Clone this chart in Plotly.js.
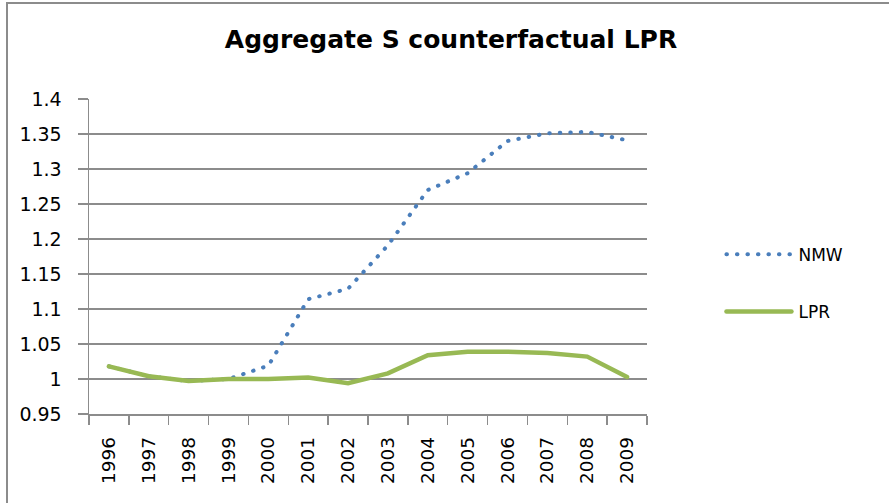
<!DOCTYPE html>
<html>
<head>
<meta charset="utf-8">
<script src="https://cdn.plot.ly/plotly-3.0.1.min.js"></script>
<style>
  html, body { margin: 0; padding: 0; background: #fff; overflow: hidden; }
  #chart { position: absolute; left: 0; top: 0; width: 889px; height: 503px; }
  #frame { position: absolute; left: 6px; top: 2px; width: 900px; height: 520px;
           border-left: 2px solid #8c8c8c; border-top: 2px solid #8c8c8c; pointer-events: none; }
  .js-line { stroke-linecap: round; }
  .legend .legendlines path { d: path("M3,0 h65") !important; }
</style>
</head>
<body>
<div id="chart"></div>
<div id="frame"></div>
<script>
const years = ["1996","1997","1998","1999","2000","2001","2002","2003","2004","2005","2006","2007","2008","2009"];
const nmwValues = [1.018, 1.004, 0.997, 1.000, 1.019, 1.114, 1.129, 1.191, 1.270, 1.294, 1.340, 1.351, 1.353, 1.341];
const lprValues = [1.018, 1.004, 0.997, 1.000, 1.000, 1.002, 0.994, 1.008, 1.034, 1.039, 1.039, 1.037, 1.032, 1.003];
const yTicks = [0.95, 1, 1.05, 1.1, 1.15, 1.2, 1.25, 1.3, 1.35, 1.4];

const traces = [
  {
    x: years, y: nmwValues, name: "NMW", type: "scatter", mode: "lines",
    legendgroup: "a",
    line: { color: "#4a7ebb", width: 4, dash: "0.5px,10px" }
  },
  {
    x: years, y: lprValues, name: "LPR", type: "scatter", mode: "lines",
    legendgroup: "b",
    line: { color: "#98b954", width: 4.5 }
  }
];

const layout = {
  width: 889, height: 503,
  margin: { l: 89, r: 242, t: 99, b: 89 },
  paper_bgcolor: "#fff", plot_bgcolor: "#fff",
  font: { family: "DejaVu Sans", color: "#000" },
  title: {
    text: "<b>Aggregate S counterfactual LPR</b>",
    font: { family: "DejaVu Sans", size: 25, color: "#000" },
    x: 451 / 889, xref: "container", xanchor: "center",
    y: 1 - 39 / 503, yref: "container", yanchor: "middle"
  },
  showlegend: true,
  legend: {
    x: 1.137, xanchor: "left", y: 0.415, yanchor: "middle",
    itemwidth: 65,
    font: { family: "DejaVu Sans", size: 17, color: "#000" },
    tracegroupgap: 32, traceorder: "grouped",
    bgcolor: "rgba(0,0,0,0)"
  },
  xaxis: {
    type: "category", range: [-0.5, 13.5],
    tickson: "boundaries", ticks: "outside", ticklen: 9, tickcolor: "#8c8c8c", tickwidth: 1.5,
    showline: true, linecolor: "#8c8c8c", linewidth: 1.5,
    showgrid: false, tickangle: -90, ticklabelstandoff: 14,
    tickfont: { family: "DejaVu Sans", size: 18.5, color: "#000" },
    fixedrange: true
  },
  yaxis: {
    range: [0.95, 1.4], tickvals: yTicks, ticktext: yTicks.map(String),
    ticks: "outside", ticklen: 10, tickcolor: "#8c8c8c", tickwidth: 1.5,
    showline: true, linecolor: "#8c8c8c", linewidth: 1.5,
    showgrid: true, gridcolor: "#8c8c8c", gridwidth: 1.5, zeroline: false,
    ticklabelstandoff: 12,
    tickfont: { family: "DejaVu Sans", size: 19, color: "#000" },
    fixedrange: true
  }
};

Plotly.newPlot("chart", traces, layout, { displayModeBar: false, staticPlot: true });
</script>
</body>
</html>
